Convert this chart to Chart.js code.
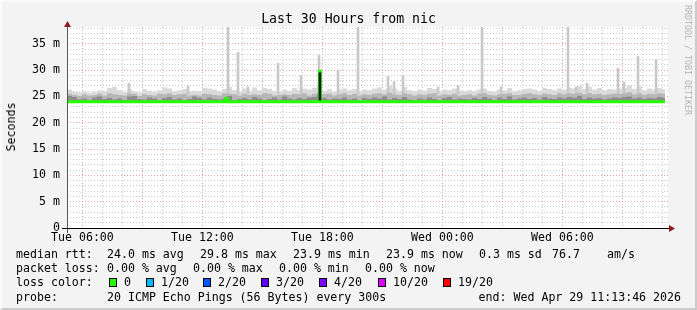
<!DOCTYPE html>
<html>
<head>
<meta charset="utf-8">
<script src="https://cdn.jsdelivr.net/npm/chart.js@4/dist/chart.umd.min.js"></script>
<style>
html, body { margin: 0; padding: 0; }
body { width: 697px; height: 310px; background: #f3f3f3; position: relative; overflow: hidden; font-family: "DejaVu Sans Mono", monospace; }
#marco { position: absolute; left: 0; top: 0; width: 697px; height: 310px; box-sizing: border-box;
  border-top: 2px solid #fbfbfb; border-left: 2px solid #fbfbfb; border-right: 2px solid #cbcbcb; border-bottom: 2px solid #cbcbcb; }
canvas { position: absolute; left: 0; top: 0; }
.t { position: absolute; white-space: pre; font-size: 11.6px; line-height: 14px; color: #000; }
#titulo { position: absolute; left: 0; width: 697px; top: 11px; text-align: center; font-size: 13.2px; line-height: 16px; }
#ylabel { position: absolute; left: 11px; top: 127px; font-size: 11.6px; line-height: 14px; transform: translate(-50%, -50%) rotate(-90deg); white-space: pre; }
#marca { position: absolute; left: 688px; top: 60px; font-size: 8.3px; line-height: 10px; color: #b4b4b4; white-space: pre; transform: translate(-50%, -50%) rotate(90deg); }
.caja { position: absolute; top: 278px; width: 8px; height: 9px; box-sizing: border-box; border: 1px solid #000; }
</style>
</head>
<body>
<div id="marco"></div>
<canvas id="grafo" width="697" height="310"></canvas>
<div id="titulo">Last 30 Hours from nic</div>
<div id="ylabel">Seconds</div>
<div id="marca">RRDTOOL / TOBI OETIKER</div>

<div class="t" style="left:16px;top:247px">median rtt:</div>
<div class="t" style="left:107px;top:247px">24.0 ms avg</div>
<div class="t" style="left:200px;top:247px">29.8 ms max</div>
<div class="t" style="left:293px;top:247px">23.9 ms min</div>
<div class="t" style="left:386px;top:247px">23.9 ms now</div>
<div class="t" style="left:479px;top:247px">0.3 ms sd</div>
<div class="t" style="left:552px;top:247px">76.7</div>
<div class="t" style="left:607px;top:247px">am/s</div>

<div class="t" style="left:16px;top:261px">packet loss:</div>
<div class="t" style="left:107px;top:261px">0.00 % avg</div>
<div class="t" style="left:193px;top:261px">0.00 % max</div>
<div class="t" style="left:279px;top:261px">0.00 % min</div>
<div class="t" style="left:365px;top:261px">0.00 % now</div>

<div class="t" style="left:16px;top:275px">loss color:</div>
<div id="leyenda"></div>

<div class="t" style="left:16px;top:290px">probe:</div>
<div class="t" style="left:107px;top:290px">20 ICMP Echo Pings (56 Bytes) every 300s</div>
<div class="t" style="right:16px;top:290px">end: Wed Apr 29 11:13:46 2026</div>

<script>
// tiempo en horas desde el martes 00:00
const startHour = 5.2294;      // Tue 05:13:46
const endHour = 35.2794;
const dataEndHour = 35.13;
const stepHours = 0.25;

// techo del humo claro (ms), un valor cada 15 min
const lightTop = [
  26.3, 25.9, 25.8, 26.0, 25.7, 25.9, 26.1, 26.0, 26.6, 26.8,
  26.2, 25.9, 26.3, 26.0, 25.8, 26.4, 26.1, 25.9, 26.2, 26.7,
  26.5, 26.0, 26.2, 26.4, 25.9, 26.1, 26.0, 26.6, 26.5, 26.3,
  26.0, 26.4, 26.8, 26.2, 25.9, 26.5, 26.1, 26.7, 26.2, 26.6,
  26.4, 26.0, 25.9, 26.3, 26.1, 26.6, 26.2, 26.5, 26.3, 26.6,
  27.0, 26.1, 26.4, 25.9, 26.3, 26.5, 26.2, 26.4, 26.0, 26.3,
  26.2, 26.5, 26.7, 26.3, 27.0, 26.5, 26.1, 26.8, 26.2, 26.0,
  26.3, 26.1, 26.6, 26.4, 26.0, 26.3, 26.2, 26.5, 26.1, 26.0,
  26.2, 26.0, 26.3, 26.5, 26.1, 25.9, 26.3, 26.2, 26.6, 26.0,
  26.2, 26.4, 26.5, 26.3, 26.1, 26.6, 26.4, 26.2, 26.5, 26.3,
  26.7, 26.5, 27.0, 26.4, 26.8, 26.3, 26.6, 26.2, 26.4, 26.3,
  26.5, 26.6, 27.2, 26.4, 26.9, 26.2, 26.5, 26.3, 26.6, 26.4
];

// humo medio
const midTop = [
  25.5, 25.3, 25.1, 25.4, 25.2, 25.3, 25.5, 25.2, 25.6, 25.4,
  25.3, 25.2, 25.6, 25.5, 25.1, 25.4, 25.3, 25.2, 25.5, 25.4,
  25.6, 25.3, 25.4, 25.5, 25.2, 25.3, 25.2, 25.5, 25.4, 25.3,
  25.2, 25.6, 25.5, 25.4, 25.2, 25.5, 25.3, 25.4, 25.3, 25.6,
  25.5, 25.2, 25.3, 25.4, 25.3, 25.5, 25.4, 25.6, 25.2, 25.5,
  25.8, 25.4, 25.5, 25.2, 25.4, 25.6, 25.3, 25.5, 25.2, 25.4,
  25.3, 25.5, 25.6, 25.4, 25.7, 25.4, 25.3, 25.6, 25.4, 25.2,
  25.4, 25.3, 25.5, 25.6, 25.2, 25.4, 25.3, 25.5, 25.2, 25.3,
  25.4, 25.2, 25.5, 25.6, 25.3, 25.2, 25.4, 25.5, 25.6, 25.3,
  25.3, 25.5, 25.6, 25.4, 25.3, 25.5, 25.4, 25.3, 25.6, 25.4,
  25.6, 25.5, 25.7, 25.4, 25.6, 25.4, 25.5, 25.3, 25.4, 25.5,
  25.5, 25.6, 25.8, 25.4, 25.6, 25.3, 25.5, 25.4, 25.6, 25.5
];

// humo oscuro
const darkTop = [
  25.1, 24.9, 24.4, 24.6, 24.3, 24.8, 25.0, 24.5, 24.7, 24.4,
  24.6, 24.3, 25.0, 25.1, 24.5, 24.4, 24.8, 24.6, 24.3, 24.7,
  24.9, 24.4, 24.6, 24.3, 24.5, 25.0, 24.7, 24.4, 24.8, 24.5,
  24.4, 24.6, 25.1, 24.3, 24.5, 24.7, 24.4, 24.9, 24.6, 24.3,
  24.5, 24.8, 24.4, 25.0, 24.6, 24.4, 24.7, 24.5, 24.8, 24.9,
  25.3, 24.7, 24.4, 24.6, 24.5, 24.8, 24.4, 24.6, 24.3, 24.7,
  24.5, 24.8, 24.6, 25.0, 24.4, 24.7, 24.5, 24.9, 24.4, 24.3,
  24.6, 24.4, 24.8, 24.5, 24.3, 24.7, 24.9, 24.4, 24.6, 24.5,
  24.4, 24.7, 24.5, 24.9, 24.6, 24.3, 24.8, 24.5, 25.0, 24.4,
  24.6, 24.8, 24.5, 24.7, 24.4, 24.9, 24.6, 24.5, 24.8, 24.6,
  24.9, 24.7, 25.1, 24.5, 24.8, 24.6, 24.7, 24.4, 24.6, 24.8,
  24.7, 24.9, 25.0, 24.6, 24.8, 24.5, 24.7, 24.6, 24.9, 24.7
];

// picos sueltos (hora, techo en ms)
const spikeHours = [8.33, 11.28, 13.28, 13.78, 14.28, 15.78, 16.93, 17.83, 18.78, 19.78, 21.28, 21.58,
  22.03, 23.78, 24.78, 25.98, 26.93, 30.28, 30.68, 31.23, 32.78, 33.08, 33.78, 34.68];
const spikeTops = [27.5, 27.0, 38.5, 33.4, 26.8, 31.3, 29.0, 32.8, 30.0, 38.5, 28.8, 27.8,
  29.0, 26.8, 27.1, 38.5, 26.8, 38.5, 26.8, 27.5, 30.4, 27.7, 32.6, 32.0];
const spikeBase = 25.5;

// columna oscura del pico de la mediana
const darkColHour = 17.875;
const darkColRange = [24.3, 29.5];

// mediana (puntos de cambio)
const medianHours = [5.2294, 13.15, 13.25, 17.85, 17.9, 35.13];
const medianValues = [24.0, 24.6, 24.0, 29.8, 24.0, 24.0];

// etiquetas de ejes
const yLabelValues = [0, 5, 10, 15, 20, 25, 30, 35];
const yLabelTexts = ['0', '5 m', '10 m', '15 m', '20 m', '25 m', '30 m', '35 m'];
const xLabelHours = [6, 12, 18, 24, 30];
const xLabelTexts = ['Tue 06:00', 'Tue 12:00', 'Tue 18:00', 'Wed 00:00', 'Wed 06:00'];

// leyenda de pérdidas
const lossLabels = ['0', '1/20', '2/20', '3/20', '4/20', '10/20', '19/20'];
const lossColors = ['#26ff00', '#00b8ff', '#0059ff', '#5e00ff', '#7e00ff', '#dd00ff', '#ff0000'];
const lossBoxX = [109, 146, 203, 261, 319, 378, 443];

const leyenda = document.getElementById('leyenda');
for (let i = 0; i < lossLabels.length; i++) {
  const caja = document.createElement('div');
  caja.className = 'caja';
  caja.style.left = lossBoxX[i] + 'px';
  caja.style.background = lossColors[i];
  leyenda.appendChild(caja);
  const txt = document.createElement('div');
  txt.className = 't';
  txt.style.left = (lossBoxX[i] + 15) + 'px';
  txt.style.top = '275px';
  txt.textContent = lossLabels[i];
  leyenda.appendChild(txt);
}

// cada valor vale desde su hora hasta la siguiente
function puntosHumo(arr) {
  const pts = arr.map((v, i) => ({x: startHour + i * stepHours, y: v}));
  pts.push({x: dataEndHour, y: arr[arr.length - 1]});
  return pts;
}

const fuente = {family: 'DejaVu Sans Mono', size: 11.6};
const rojo = 'rgba(232,140,140,0.8)';
const gris = 'rgba(185,185,185,0.75)';

// fondo blanco + ejes con flechas
const ejes = {
  id: 'ejes',
  beforeDraw(chart) {
    const {ctx, chartArea: a} = chart;
    ctx.save();
    ctx.fillStyle = '#ffffff';
    ctx.fillRect(a.left, a.top, a.right - a.left, a.bottom - a.top);
    ctx.restore();
  },
  afterDatasetsDraw(chart) {
    const {ctx, chartArea: a} = chart;
    ctx.save();
    ctx.lineWidth = 1;
    ctx.strokeStyle = '#000';
    ctx.beginPath();
    ctx.moveTo(a.left - 5, a.bottom + 0.5);
    ctx.lineTo(a.right + 2, a.bottom + 0.5);
    ctx.stroke();
    ctx.strokeStyle = '#555';
    ctx.beginPath();
    ctx.moveTo(a.left + 0.5, a.bottom + 5);
    ctx.lineTo(a.left + 0.5, a.top - 2);
    ctx.stroke();
    ctx.fillStyle = '#8e1b1b';
    ctx.beginPath();
    ctx.moveTo(a.left + 0.5, a.top - 6);
    ctx.lineTo(a.left - 3, a.top);
    ctx.lineTo(a.left + 4, a.top);
    ctx.closePath();
    ctx.fill();
    ctx.beginPath();
    ctx.moveTo(a.right + 7, a.bottom + 0.5);
    ctx.lineTo(a.right + 1, a.bottom - 3);
    ctx.lineTo(a.right + 1, a.bottom + 4);
    ctx.closePath();
    ctx.fill();
    ctx.restore();
  }
};

const grafica = new Chart(document.getElementById('grafo'), {
  type: 'line',
  data: {
    datasets: [
      {
        label: 'dark column', type: 'bar', order: 1, grouped: false,
        data: [{x: darkColHour, y: darkColRange}],
        backgroundColor: '#1e1e1e', barThickness: 2, borderWidth: 0
      },
      {
        label: 'median', order: 2,
        data: medianHours.map((h, i) => ({x: h, y: medianValues[i]})),
        borderColor: '#26ff00', borderWidth: 3, stepped: 'before',
        pointRadius: 0, fill: false, borderCapStyle: 'butt'
      },
      {
        label: 'dark', order: 4,
        data: puntosHumo(darkTop),
        borderWidth: 0, pointRadius: 0, stepped: 'before',
        fill: {value: 23.9}, backgroundColor: '#8c8c8c'
      },
      {
        label: 'mid', order: 5,
        data: puntosHumo(midTop),
        borderWidth: 0, pointRadius: 0, stepped: 'before',
        fill: {value: 23.9}, backgroundColor: '#b6b6b6'
      },
      {
        label: 'spikes', type: 'bar', order: 6, grouped: false,
        data: spikeHours.map((h, i) => ({x: h, y: [spikeBase, spikeTops[i]]})),
        backgroundColor: '#c8c8c8', barThickness: 2, borderWidth: 0
      },
      {
        label: 'light', order: 7,
        data: puntosHumo(lightTop),
        borderWidth: 0, pointRadius: 0, stepped: 'before',
        fill: {value: 23.9}, backgroundColor: '#dadada'
      }
    ]
  },
  options: {
    responsive: false,
    devicePixelRatio: 1,
    animation: false,
    layout: {padding: {left: 0, right: 29, top: 27, bottom: 62}},
    plugins: {legend: {display: false}, tooltip: {enabled: false}, title: {display: false}},
    scales: {
      x: {
        type: 'linear', min: startHour, max: endHour, offset: false,
        afterFit: (s) => { s.height = 20; },
        afterBuildTicks: (s) => {
          const t = [];
          for (let h = 6; h <= 35; h++) t.push({value: h});
          s.ticks = t;
        },
        ticks: {
          autoSkip: false, maxRotation: 0, padding: 3, color: '#000', font: fuente,
          callback: (v) => { const k = xLabelHours.indexOf(v); return k >= 0 ? xLabelTexts[k] : ''; }
        },
        grid: {
          offset: false, drawTicks: false, lineWidth: 1,
          color: (c) => (c.tick && c.tick.value % 3 === 0) ? rojo : gris
        },
        border: {display: false, dash: [1, 2]}
      },
      y: {
        min: 0, max: 38.2,
        afterFit: (s) => { s.width = 67; },
        afterBuildTicks: (s) => {
          const t = [];
          for (let v = 0; v <= 38; v++) t.push({value: v});
          s.ticks = t;
        },
        ticks: {
          autoSkip: false, padding: 7, color: '#000', font: fuente,
          callback: (v) => { const k = yLabelValues.indexOf(v); return k >= 0 ? yLabelTexts[k] : ''; }
        },
        grid: {
          drawTicks: false, lineWidth: 1,
          color: (c) => {
            if (!c.tick || c.tick.value === 0) return 'rgba(0,0,0,0)';
            return c.tick.value % 5 === 0 ? rojo : gris;
          }
        },
        border: {display: false, dash: [1, 2]}
      }
    }
  },
  plugins: [ejes]
});
</script>
</body>
</html>
